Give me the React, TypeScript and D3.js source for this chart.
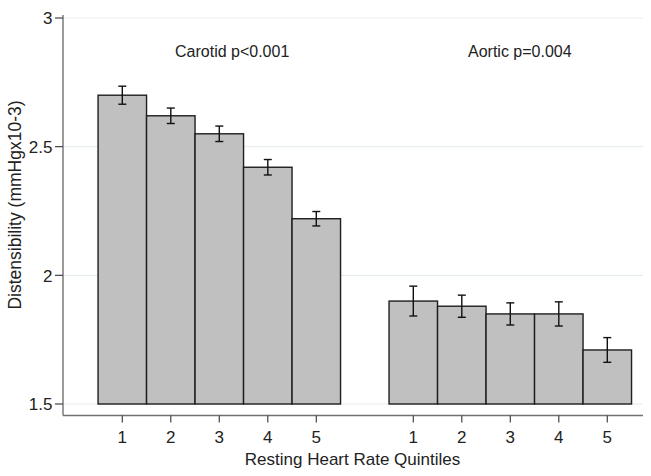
import React from "react";
import * as d3 from "d3";

const quintiles = ["1", "2", "3", "4", "5"];
const groups = ["Carotid", "Aortic"];
const groupLabels = ["Carotid p<0.001", "Aortic p=0.004"];
const carotidMean = [2.7, 2.62, 2.55, 2.42, 2.22];
const carotidErr = [0.035, 0.03, 0.03, 0.03, 0.028];
const aorticMean = [1.9, 1.88, 1.85, 1.85, 1.71];
const aorticErr = [0.058, 0.043, 0.043, 0.047, 0.048];
const yTicks = [1.5, 2, 2.5, 3];

const W = 651;
const H = 476;
const FONT = "'Liberation Sans', Arial, sans-serif";

export default function App() {
  const x = d3.scaleLinear().domain([1, 11]).range([122.3, 607.3]);
  const y = d3.scaleLinear().domain([1.5, 3]).range([404, 18]);
  const step = x(2) - x(1);
  const axisX = 63;
  const axisY = 415.5;
  const rightEdge = 643;

  const series = [
    { name: groups[0], mean: carotidMean, err: carotidErr, offset: 0 },
    { name: groups[1], mean: aorticMean, err: aorticErr, offset: 6 },
  ];

  return (
    <svg
      width={W}
      height={H}
      style={{ position: "absolute", left: 0, top: 0, background: "#fff" }}
      fontFamily={FONT}
    >
      {yTicks.map((t) => (
        <line key={"g" + t} x1={axisX + 1} x2={rightEdge} y1={y(t)} y2={y(t)} stroke="#e6eef2" strokeWidth={1.2} />
      ))}
      {series.map((s) =>
        s.mean.map((m, i) => {
          const cx = x(i + 1 + s.offset);
          return (
            <g key={s.name + i}>
              <rect
                x={cx - step / 2}
                y={y(m)}
                width={step}
                height={y(1.5) - y(m)}
                fill="#c0c0c0"
                stroke="#1e1e1e"
                strokeWidth={1.4}
              />
              <line x1={cx} x2={cx} y1={y(m + s.err[i])} y2={y(m - s.err[i])} stroke="#111" strokeWidth={1.4} />
              <line x1={cx - 4} x2={cx + 4} y1={y(m + s.err[i])} y2={y(m + s.err[i])} stroke="#111" strokeWidth={1.4} />
              <line x1={cx - 4} x2={cx + 4} y1={y(m - s.err[i])} y2={y(m - s.err[i])} stroke="#111" strokeWidth={1.4} />
            </g>
          );
        })
      )}
      {/* axes */}
      <line x1={axisX} x2={axisX} y1={15} y2={axisY} stroke="#707070" strokeWidth={1.4} />
      <line x1={axisX} x2={rightEdge} y1={axisY} y2={axisY} stroke="#707070" strokeWidth={1.4} />
      {yTicks.map((t) => (
        <g key={"yt" + t}>
          <line x1={axisX - 8} x2={axisX} y1={y(t)} y2={y(t)} stroke="#444" strokeWidth={1.2} />
          <text x={52.5} y={y(t)} dy="0.38em" textAnchor="end" fontSize={17} fill="#222">
            {d3.format("")(t)}
          </text>
        </g>
      ))}
      {series.map((s) =>
        quintiles.map((q, i) => {
          const cx = x(i + 1 + s.offset);
          return (
            <g key={"xt" + s.name + q}>
              <line x1={cx} x2={cx} y1={axisY} y2={axisY + 7} stroke="#444" strokeWidth={1.2} />
              <text x={cx} y={443} textAnchor="middle" fontSize={17} fill="#222">
                {q}
              </text>
            </g>
          );
        })
      )}
      <text x={352.5} y={465} textAnchor="middle" fontSize={17} fill="#222">
        Resting Heart Rate Quintiles
      </text>
      <text
        transform={`translate(21,205) rotate(-90)`}
        textAnchor="middle"
        fontSize={17.5}
        fill="#222"
      >
        Distensibility (mmHgx10-3)
      </text>
      <text x={175} y={57} fontSize={16} fill="#222">
        {groupLabels[0]}
      </text>
      <text x={468} y={57} fontSize={16} fill="#222">
        {groupLabels[1]}
      </text>
    </svg>
  );
}
